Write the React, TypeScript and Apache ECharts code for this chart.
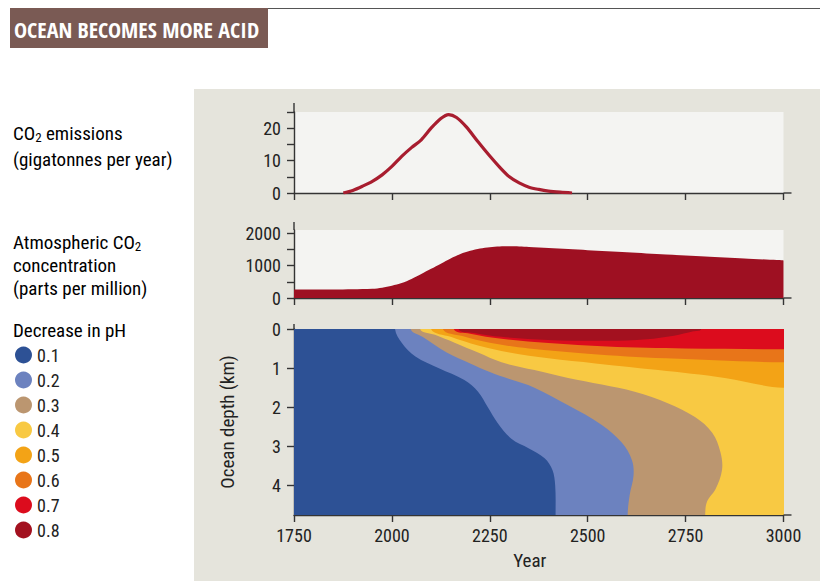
import React, { useEffect, useRef } from "react";
import * as echarts from "echarts";

// ---------- data ----------
const yearTicks = [1750, 2000, 2250, 2500, 2750, 3000];

// CO2 emissions (gigatonnes per year)
const emissionYears = [1876, 1900, 1925, 1950, 1975, 2000, 2025, 2050, 2075, 2100, 2125, 2145, 2165, 2190, 2220, 2250, 2275, 2300, 2325, 2350, 2375, 2400, 2430, 2460];
const emissionValues = [0, 0.8, 2.1, 3.6, 5.6, 8.2, 11.3, 14.0, 16.4, 20.0, 23.0, 24.2, 23.3, 20.4, 15.8, 11.4, 8.0, 5.0, 3.1, 1.8, 1.1, 0.6, 0.25, 0];

// Atmospheric CO2 concentration (ppm)
const co2Years = [1750, 1800, 1850, 1900, 1950, 1975, 2000, 2025, 2050, 2075, 2100, 2125, 2150, 2175, 2200, 2225, 2250, 2275, 2300, 2325, 2350, 2400, 2450, 2500, 2600, 2700, 2800, 2900, 3000];
const co2Values = [260, 260, 262, 268, 285, 320, 380, 460, 590, 740, 900, 1060, 1220, 1360, 1460, 1530, 1570, 1590, 1595, 1590, 1575, 1545, 1510, 1475, 1410, 1340, 1280, 1220, 1160];

// Decrease in pH: contour boundaries as [year, depth km]
const phLevels = ["0.1", "0.2", "0.3", "0.4", "0.5", "0.6", "0.7", "0.8"];
const phColors = ["#2d5195", "#6c82bf", "#bb9670", "#f8c943", "#f3a316", "#e87519", "#dc0c1d", "#a3111f"];
const ph02Edge = [[2008, 0], [2025, 0.35], [2060, 0.7], [2120, 1.0], [2185, 1.3], [2220, 1.6], [2245, 2.0], [2270, 2.4], [2305, 2.8], [2350, 3.05], [2390, 3.3], [2410, 3.6], [2417, 4.0], [2418, 4.75]];
const ph03Edge = [[2048, 0], [2078, 0.2], [2140, 0.6], [2200, 0.88], [2250, 1.1], [2300, 1.28], [2364, 1.5], [2450, 1.95], [2536, 2.45], [2587, 2.9], [2613, 3.35], [2617, 3.75], [2607, 4.25], [2602, 4.75]];
const ph04Edge = [[2072, 0], [2110, 0.15], [2160, 0.35], [2220, 0.6], [2280, 0.85], [2364, 1.05], [2450, 1.25], [2536, 1.42], [2620, 1.6], [2706, 1.9], [2774, 2.25], [2818, 2.65], [2839, 3.15], [2843, 3.6], [2826, 4.1], [2805, 4.4], [2800, 4.75]];
const ph05Edge = [[2100, 0], [2150, 0.2], [2220, 0.42], [2300, 0.6], [2400, 0.75], [2520, 0.88], [2680, 1.05], [2850, 1.25], [3000, 1.5]];
const ph06Edge = [[2130, 0], [2180, 0.18], [2250, 0.35], [2350, 0.5], [2500, 0.63], [2700, 0.75], [3000, 0.85]];
const ph07Edge = [[2158, 0], [2200, 0.12], [2280, 0.25], [2400, 0.36], [2550, 0.45], [2750, 0.5], [3000, 0.52]];
const ph08Edge = [[2170, 0], [2210, 0.1], [2280, 0.2], [2400, 0.28], [2550, 0.3], [2650, 0.26], [2720, 0.17], [2770, 0.06], [2790, 0]];

const yearMin = 1750;
const yearMax = 3000;
const depthMax = 4.75;

// ---------- styles ----------
const FONT = "'Roboto Condensed', 'Roboto', sans-serif";
const AXIS = "#343434";
const TXT = "#222222";
const GRID_LEFT = 294;
const GRID_W = 489.5;
const grids = [
  { top: 112, height: 81 },
  { top: 230, height: 68 },
  { top: 329, height: 186 },
];

type Kind = "full" | "right" | "above" | "blob";

function makeRender(edge: number[][], kind: Kind, color: string) {
  return (params: any, api: any) => {
    if (params.dataIndex !== 0) return null;
    if (kind === "full") {
      const cs = params.coordSys;
      return { type: "rect", shape: { x: cs.x, y: cs.y, width: cs.width, height: cs.height }, style: { fill: color } };
    }
    const first = edge[0];
    const last = edge[edge.length - 1];
    let ring: number[][];
    if (kind === "right") {
      ring = [[first[0], -1], ...edge, [last[0], depthMax + 1.5], [yearMax + 400, depthMax + 1.5], [yearMax + 400, -1]];
    } else if (kind === "above") {
      ring = [[first[0], -1], ...edge, [yearMax + 400, last[1]], [yearMax + 400, -1]];
    } else {
      ring = [[first[0], -1], ...edge, [last[0], -1]];
    }
    const points = ring.map((p) => api.coord(p));
    return { type: "polygon", shape: { points, smooth: 0.35 }, style: { fill: color } };
  };
}

const phEdges: (number[][] | null)[] = [null, ph02Edge, ph03Edge, ph04Edge, ph05Edge, ph06Edge, ph07Edge, ph08Edge];
const phKinds: Kind[] = ["full", "right", "right", "right", "above", "above", "above", "blob"];

export default function App() {
  const ref = useRef<HTMLDivElement>(null);
  useEffect(() => {
    const chart = echarts.init(ref.current!, null, { renderer: "svg" });

    const xAxes = grids.map((_, i) => ({
      type: "value",
      gridIndex: i,
      min: yearMin,
      max: yearMax,
      interval: 250,
      axisLine: { onZero: false, lineStyle: { color: AXIS, width: 1.4 } },
      axisTick: { show: true, length: 7, lineStyle: { color: AXIS, width: 1.4 }, customValues: yearTicks },
      axisLabel: {
        show: i === 2,
        margin: 11,
        fontFamily: FONT,
        fontSize: 18,
        color: TXT,
        customValues: yearTicks,
        formatter: (v: number) => String(v),
      },
      splitLine: { show: false },
      ...(i === 2
        ? { name: "Year", nameLocation: "middle", nameGap: 36, nameTextStyle: { fontFamily: FONT, fontSize: 19, color: TXT, padding: [0, 18, 0, 0] } }
        : {}),
    }));

    const yBase = {
      type: "value",
      axisLine: { show: true, onZero: false, lineStyle: { color: AXIS, width: 1.4 } },
      splitLine: { show: false },
    };
    const yAxes = [
      {
        ...yBase,
        gridIndex: 0,
        min: 0,
        max: 25,
        interval: 5,
        axisTick: { show: true, length: 7, lineStyle: { color: AXIS, width: 1.4 } },
        axisLabel: { margin: 13, fontFamily: FONT, fontSize: 18, color: TXT, formatter: (v: number) => (v % 10 === 0 ? String(v) : "") },
      },
      {
        ...yBase,
        gridIndex: 1,
        min: 0,
        max: 2100,
        interval: 500,
        axisTick: { show: true, length: 7, lineStyle: { color: AXIS, width: 1.4 }, customValues: [0, 500, 1000, 1500, 2000] },
        axisLabel: { margin: 13, fontFamily: FONT, fontSize: 18, color: TXT, customValues: [0, 1000, 2000], formatter: (v: number) => (v % 1000 === 0 ? String(v) : "") },
      },
      {
        ...yBase,
        gridIndex: 2,
        min: 0,
        max: depthMax,
        interval: 1,
        inverse: true,
        axisTick: { show: true, length: 7, lineStyle: { color: AXIS, width: 1.4 }, customValues: [0, 1, 2, 3, 4] },
        axisLabel: { margin: 13, fontFamily: FONT, fontSize: 18, color: TXT, customValues: [0, 1, 2, 3, 4], formatter: (v: number) => (Number.isInteger(v) ? String(v) : "") },
        name: "Ocean depth (km)",
        nameLocation: "middle",
        nameGap: 57,
        nameRotate: 90,
        nameTextStyle: { fontFamily: FONT, fontSize: 19, color: TXT },
      },
    ];

    const phSeries = phLevels.map((lvl, i) => ({
      type: "custom",
      name: lvl,
      xAxisIndex: 2,
      yAxisIndex: 2,
      clip: true,
      silent: true,
      itemStyle: { color: phColors[i] },
      data: phEdges[i] ? (phEdges[i] as number[][]) : [[yearMin, 0]],
      encode: { x: 0, y: 1 },
      renderItem: makeRender(phEdges[i] || [], phKinds[i], phColors[i]),
    }));

    const rich = {
      n: { fontFamily: FONT, fontSize: 19, color: TXT, lineHeight: 22 },
      s: { fontFamily: FONT, fontSize: 13, color: TXT, lineHeight: 10, verticalAlign: "bottom" },
    };
    const leftText = (text: string, y: number) => ({
      type: "text",
      x: 13,
      y,
      style: { text, rich, verticalAlign: "middle", align: "left" },
    });

    const ext = (x1: number, y1: number, x2: number, y2: number) => ({
      type: "line",
      shape: { x1, y1, x2, y2 },
      style: { stroke: AXIS, lineWidth: 1.4 },
      z: 5,
    });
    const gridRight = GRID_LEFT + GRID_W;

    chart.setOption({
      animation: false,
      backgroundColor: "#ffffff",
      grid: grids.map((g) => ({
        left: GRID_LEFT,
        top: g.top,
        width: GRID_W,
        height: g.height,
        show: true,
        backgroundColor: "#f4f4f2",
        borderWidth: 0,
      })),
      xAxis: xAxes,
      yAxis: yAxes,
      legend: {
        data: phLevels,
        orient: "vertical",
        left: 15,
        top: 346,
        padding: 0,
        icon: "circle",
        itemWidth: 17,
        itemHeight: 17,
        itemGap: 7,
        selectedMode: false,
        textStyle: { fontFamily: FONT, fontSize: 18, color: TXT },
      },
      graphic: [
        { type: "rect", z: -10, shape: { x: 194, y: 89, width: 626, height: 492 }, style: { fill: "#e5e4dc" } },
        { type: "line", z: 1, shape: { x1: 10, y1: 8.5, x2: 820, y2: 8.5 }, style: { stroke: "#555", lineWidth: 1 } },
        { type: "rect", z: 2, shape: { x: 10, y: 8, width: 258, height: 40 }, style: { fill: "#7a5a54" } },
        {
          type: "text",
          z: 3,
          x: 14,
          y: 29,
          style: { text: "OCEAN BECOMES MORE ACID", font: "bold 22px 'Open Sans Condensed', 'Roboto Condensed', sans-serif", fill: "#ffffff", verticalAlign: "middle" },
        },
        leftText("{n|CO}{s|2}{n| emissions}", 133),
        leftText("{n|(gigatonnes per year)}", 159),
        leftText("{n|Atmospheric CO}{s|2}", 242),
        leftText("{n|concentration}", 265),
        leftText("{n|(parts per million)}", 288),
        leftText("{n|Decrease in pH}", 330),
        ext(GRID_LEFT, grids[0].top, GRID_LEFT, grids[0].top - 9),
        ext(gridRight, grids[0].top + grids[0].height, gridRight + 8, grids[0].top + grids[0].height),
        ext(GRID_LEFT, grids[1].top, GRID_LEFT, grids[1].top - 8),
        ext(gridRight, grids[1].top + grids[1].height, gridRight + 8, grids[1].top + grids[1].height),
        ext(GRID_LEFT, grids[2].top, GRID_LEFT, grids[2].top - 5),
        ext(gridRight, grids[2].top + grids[2].height, gridRight + 8, grids[2].top + grids[2].height),
      ],
      series: [
        {
          type: "line",
          name: "CO2 emissions",
          xAxisIndex: 0,
          yAxisIndex: 0,
          data: emissionYears.map((y, i) => [y, emissionValues[i]]),
          smooth: 0.3,
          symbol: "none",
          lineStyle: { color: "#a81d2f", width: 3.2 },
          z: 3,
        },
        {
          type: "line",
          name: "CO2 concentration",
          xAxisIndex: 1,
          yAxisIndex: 1,
          data: co2Years.map((y, i) => [y, co2Values[i]]),
          smooth: 0.3,
          symbol: "none",
          lineStyle: { width: 0, color: "#9e1022" },
          areaStyle: { color: "#9e1022", opacity: 1 },
          z: 3,
        },
        ...phSeries,
      ],
    });
    return () => chart.dispose();
  }, []);
  return <div ref={ref} style={{ position: "absolute", left: 0, top: 0, width: 827, height: 581 }} />;
}
